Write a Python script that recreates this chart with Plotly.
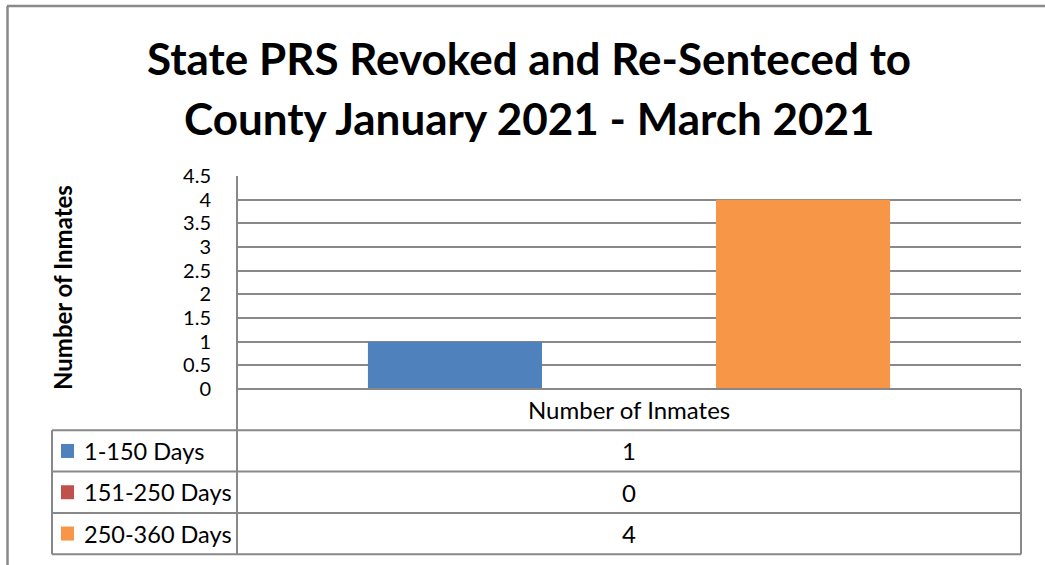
import plotly.graph_objs as go

# data
categories = ["Number of Inmates"]
series_names = ["1-150 Days", "151-250 Days", "250-360 Days"]
series_values = [1, 0, 4]
series_colors = ["#4F81BD", "#C0504D", "#F79646"]
title_lines = ["State PRS Revoked and Re-Senteced to", "County January 2021 - March 2021"]
y_title = "Number of Inmates"
y_ticks = [0, 0.5, 1, 1.5, 2, 2.5, 3, 3.5, 4, 4.5]

W, H = 1045, 565
FONT = "Lato"
GRID = "#898989"


def px(x):
    return x / W


def py(y):
    return 1 - y / H


# pixel layout of the chart
plot_l, plot_r, plot_t, plot_b = 237, 1021, 176, 389
tab_l = 52
row_h = 41.3
row_top = [389 + i * row_h for i in range(4)]   # header + 3 series rows

fig = go.Figure()
for name, val, col in zip(series_names, series_values, series_colors):
    fig.add_trace(go.Bar(x=categories, y=[val], name=name, marker=dict(color=col, line=dict(width=0)),
                         showlegend=False))

shapes = []
annotations = []

# outer chart border (top + left, rest is cut off)
shapes.append(dict(type="line", xref="paper", yref="paper", x0=px(7), x1=px(1045), y0=py(6), y1=py(6),
                   line=dict(color=GRID, width=2.5)))
shapes.append(dict(type="line", xref="paper", yref="paper", x0=px(7.5), x1=px(7.5), y0=py(6), y1=py(565),
                   line=dict(color=GRID, width=2.5)))

# data table lines
tab_bottom = row_top[0] + 4 * row_h
for i in range(1, 5):
    yy = row_top[0] + i * row_h
    shapes.append(dict(type="line", xref="paper", yref="paper", x0=px(tab_l), x1=px(plot_r), y0=py(yy), y1=py(yy),
                       line=dict(color=GRID, width=2)))
shapes.append(dict(type="line", xref="paper", yref="paper", x0=px(plot_l), x1=px(plot_r), y0=py(plot_b), y1=py(plot_b),
                   line=dict(color=GRID, width=2)))
shapes.append(dict(type="line", xref="paper", yref="paper", x0=px(tab_l), x1=px(tab_l),
                   y0=py(row_top[1]), y1=py(tab_bottom), line=dict(color=GRID, width=2)))
shapes.append(dict(type="line", xref="paper", yref="paper", x0=px(plot_l), x1=px(plot_l),
                   y0=py(plot_t), y1=py(tab_bottom), line=dict(color=GRID, width=2)))
shapes.append(dict(type="line", xref="paper", yref="paper", x0=px(plot_r), x1=px(plot_r),
                   y0=py(plot_b), y1=py(tab_bottom), line=dict(color=GRID, width=2)))


def label(text, x, y, size, xanchor="center", **kw):
    return dict(text=text, xref="paper", yref="paper", x=px(x), y=py(y), xanchor=xanchor, yanchor="middle",
                showarrow=False, font=dict(family=FONT, size=size, color="black"), **kw)


mid_x = (plot_l + plot_r) / 2
annotations.append(label(categories[0], mid_x, row_top[0] + row_h / 2, 24))
for i, (name, val, col) in enumerate(zip(series_names, series_values, series_colors)):
    cy = row_top[i + 1] + row_h / 2
    shapes.append(dict(type="rect", xref="paper", yref="paper", x0=px(61), x1=px(74), y0=py(cy - 7), y1=py(cy + 7),
                       fillcolor=col, line=dict(width=0)))
    annotations.append(label(name, 82, cy, 23.5, xanchor="left"))
    annotations.append(label(str(val), mid_x, cy, 24))

# title and axis title
annotations.append(label("<b>" + title_lines[0] + "</b>", 529, 58, 44))
annotations.append(label("<b>" + title_lines[1] + "</b>", 529, 118, 44))
annotations.append(label("<b>" + y_title + "</b>", 62, 288, 24, textangle=-90))

fig.update_layout(
    width=W, height=H,
    margin=dict(l=0, r=0, t=0, b=0, autoexpand=False),
    paper_bgcolor="white", plot_bgcolor="white",
    barmode="group", bargap=0.334, bargroupgap=0,
    xaxis=dict(domain=[px(plot_l), px(plot_r)], showticklabels=False, showgrid=False, zeroline=False,
               showline=False, fixedrange=True, automargin=False),
    yaxis=dict(domain=[py(plot_b), py(plot_t)], range=[0, 4.5], tickvals=y_ticks,
               ticktext=[f"{t:g}" for t in y_ticks], showgrid=True, gridcolor=GRID, gridwidth=1.5,
               zeroline=False, showline=False, ticks="", ticklabelstandoff=25, automargin=False,
               tickfont=dict(family=FONT, size=20, color="black")),
    shapes=shapes,
    annotations=annotations,
)

fig.write_html("out.html", config={"displayModeBar": False},
               post_script="document.body.style.margin='0';")
